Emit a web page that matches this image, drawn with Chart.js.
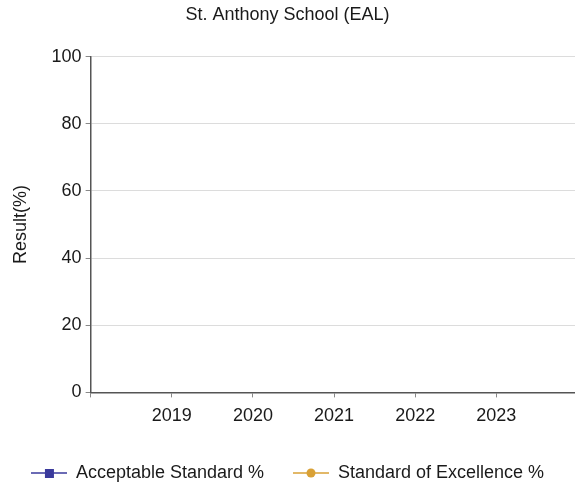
<!DOCTYPE html>
<html>
<head>
<meta charset="utf-8">
<script src="https://cdn.jsdelivr.net/npm/chart.js@4/dist/chart.umd.min.js"></script>
<style>
    html, body {margin: 0; padding: 0; background: #fff;}
    #wrap {width: 575px; height: 483px; position: relative;}
</style>
</head>
<body>
<div id="wrap"><canvas id="chart"></canvas></div>
<script>
const chartTitle = 'St. Anthony School (EAL)';
const yTitle = 'Result(%)';
const years = [2019, 2020, 2021, 2022, 2023];
// no results published for these years
const acceptable = [null, null, null, null, null];
const excellence = [null, null, null, null, null];
const yTicks = [0, 20, 40, 60, 80, 100];

const blue = '#3a3a9c';
const gold = '#d9a136';
const font = 'Arial, "Liberation Sans", sans-serif';

// legend symbol: short line with a marker in the middle
function legendIcon(color, shape) {
    const c = document.createElement('canvas');
    c.width = 36;
    c.height = 12;
    const ctx = c.getContext('2d');
    ctx.strokeStyle = color;
    ctx.lineWidth = 1.5;
    ctx.beginPath();
    ctx.moveTo(0, 6);
    ctx.lineTo(36, 6);
    ctx.stroke();
    ctx.fillStyle = color;
    if (shape === 'rect') {
        ctx.fillRect(14, 2, 9, 9);
    } else {
        ctx.beginPath();
        ctx.arc(18, 6, 4.5, 0, Math.PI * 2);
        ctx.fill();
    }
    return c;
}

const toPoints = (vals) => years.map((y, i) => ({x: y, y: vals[i]}));

new Chart(document.getElementById('chart').getContext('2d'), {
    type: 'line',
    data: {
        datasets: [
            {label: 'Acceptable Standard %', data: toPoints(acceptable), borderColor: blue, backgroundColor: blue,
                pointStyle: legendIcon(blue, 'rect')},
            {label: 'Standard of Excellence %', data: toPoints(excellence), borderColor: gold, backgroundColor: gold,
                pointStyle: legendIcon(gold, 'circle')}
        ]
    },
    options: {
        responsive: true,
        maintainAspectRatio: false,
        animation: false,
        layout: {autoPadding: false, padding: {left: 0, right: 0, top: 0, bottom: -9}},
        plugins: {
            title: {
                display: true, text: chartTitle, color: '#1a1a1a',
                font: {family: font, size: 18, weight: 'normal'},
                padding: {top: 4, bottom: 31}
            },
            legend: {
                position: 'bottom',
                labels: {
                    usePointStyle: true, pointStyleWidth: 36, padding: 29,
                    color: '#1a1a1a', font: {family: font, size: 18}
                }
            },
            tooltip: {enabled: false}
        },
        scales: {
            x: {
                type: 'linear', min: 2018, max: 2023.97,
                afterBuildTicks: (s) => { s.ticks = [2018].concat(years).map(v => ({value: v})); },
                ticks: {
                    color: '#1a1a1a', font: {family: font, size: 18}, padding: 8,
                    callback: (v) => years.includes(v) ? String(v) : ''
                },
                grid: {drawOnChartArea: false, tickLength: 5, tickColor: '#888'},
                border: {color: '#555', width: 1.5}
            },
            y: {
                min: 0, max: 100,
                afterBuildTicks: (s) => { s.ticks = yTicks.map(v => ({value: v})); },
                ticks: {color: '#1a1a1a', font: {family: font, size: 18}, padding: 4},
                title: {display: true, text: yTitle, color: '#1a1a1a', font: {family: font, size: 18},
                    padding: {top: 10, bottom: 16}},
                grid: {color: '#dcdcdc', tickLength: 5, tickColor: '#888'},
                border: {color: '#555', width: 1.5}
            }
        }
    }
});
</script>
</body>
</html>
